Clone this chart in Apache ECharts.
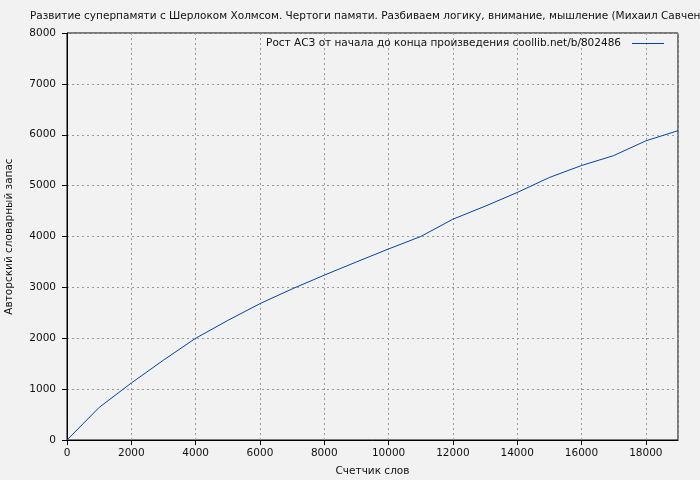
<!DOCTYPE html>
<html><head><meta charset="utf-8">
<script src="https://cdn.jsdelivr.net/npm/echarts@6/dist/echarts.min.js"></script>
<style>html,body{margin:0;padding:0;background:#f2f2f2}#c{width:700px;height:480px}</style>
</head><body><div id="c"></div>
<script>
const titleText = 'Развитие суперпамяти с Шерлоком Холмсом. Чертоги памяти. Разбиваем логику, внимание, мышление (Михаил Савченко)';
const seriesName = 'Рост АСЗ от начала до конца произведения coollib.net/b/802486';
const xName = 'Счетчик слов';
const yName = 'Авторский словарный запас';
const words = [0,1000,2000,3000,4000,5000,6000,7000,8000,9000,10000,11000,12000,13000,14000,15000,16000,17000,18000,19000];
const vocab = [0,640,1120,1570,2000,2350,2680,2970,3240,3500,3755,4000,4340,4595,4865,5160,5395,5590,5880,6080];

const font = 'DejaVu Sans';
const fs = 10.5;
const chart = echarts.init(document.getElementById('c'), null, {renderer:'canvas'});
chart.setOption({
  backgroundColor:'#f2f2f2',
  animation:false,
  title:{text:titleText,left:30,top:11,padding:0,textStyle:{fontFamily:font,fontSize:fs,fontWeight:'normal',color:'#111'}},
  legend:{show:true,right:36,top:38,padding:0,align:'right',itemWidth:32,itemHeight:10,itemGap:0,
    textStyle:{fontFamily:font,fontSize:fs,color:'#111',padding:[0,6,0,0]},
    data:[{name:seriesName,icon:'path://M0,0L32,0L32,1L0,1Z'}]},
  grid:{left:67,right:22,top:33,bottom:40,show:true,borderColor:'#000',borderWidth:1,backgroundColor:'transparent',containLabel:false,outerBoundsMode:'none'},
  xAxis:{type:'value',min:0,max:19000,interval:2000,
    name:xName,nameLocation:'middle',nameGap:26,nameTextStyle:{fontFamily:font,fontSize:fs,color:'#111'},
    axisLine:{show:true,lineStyle:{color:'#000',width:1}},
    axisTick:{show:true,length:5,lineStyle:{color:'#000'}},
    axisLabel:{fontFamily:font,fontSize:fs,color:'#111',margin:8,showMaxLabel:false,formatter:v=>String(v)},
    splitLine:{show:true,lineStyle:{color:'#999',type:[2,3],width:1}}},
  yAxis:{type:'value',min:0,max:8000,interval:1000,
    name:yName,nameLocation:'middle',nameGap:52,nameTextStyle:{fontFamily:font,fontSize:fs,color:'#111'},
    axisLine:{show:true,lineStyle:{color:'#000',width:1}},
    axisTick:{show:true,length:5,lineStyle:{color:'#000'}},
    axisLabel:{fontFamily:font,fontSize:fs,color:'#111',margin:11,formatter:v=>String(v)},
    splitLine:{show:true,lineStyle:{color:'#999',type:[2,3],width:1}}},
  series:[{name:seriesName,type:'line',symbol:'none',showSymbol:false,
    lineStyle:{color:'#0044aa',width:1},itemStyle:{color:'#0044aa'},
    data:words.map((w,i)=>[w,vocab[i]])}]
});
</script></body></html>
